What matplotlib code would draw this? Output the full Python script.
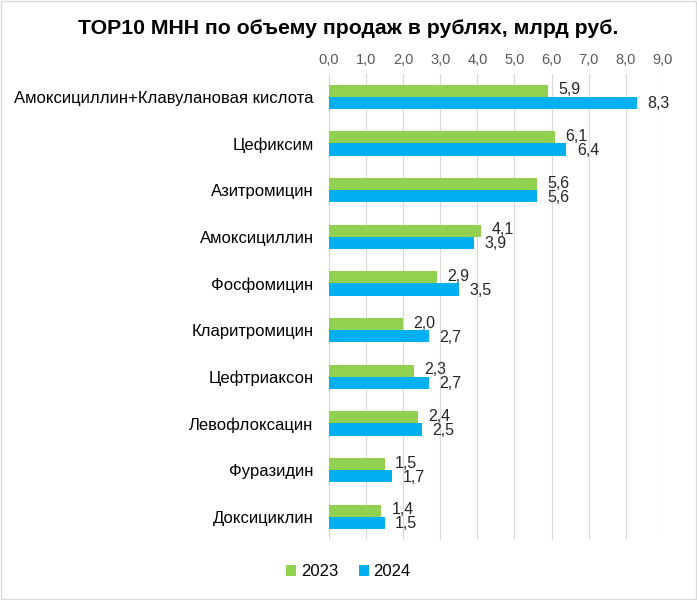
import numpy as np
import matplotlib.pyplot as plt
from matplotlib.patches import Rectangle

drugs = ["Амоксициллин+Клавулановая кислота", "Цефиксим", "Азитромицин",
         "Амоксициллин", "Фосфомицин", "Кларитромицин", "Цефтриаксон",
         "Левофлоксацин", "Фуразидин", "Доксициклин"]
sales_2023 = [5.9, 6.1, 5.6, 4.1, 2.9, 2.0, 2.3, 2.4, 1.5, 1.4]
sales_2024 = [8.3, 6.4, 5.6, 3.9, 3.5, 2.7, 2.7, 2.5, 1.7, 1.5]
x_ticks = [0, 1, 2, 3, 4, 5, 6, 7, 8, 9]

GREEN = '#92D050'
BLUE = '#00B0F0'

plt.rcParams['font.family'] = ['Liberation Sans', 'DejaVu Sans']

fig = plt.figure(figsize=(6.97, 6.0), dpi=100)
fig.patches.append(Rectangle((0.001, 0.001), 0.997, 0.997, transform=fig.transFigure,
                             fill=False, edgecolor='#D9D9D9', linewidth=1))
ax = fig.add_axes([0.472, 0.1, 0.479, 0.7775])

y = np.arange(len(drugs))
h = 0.26
b1 = ax.barh(y - h / 2, sales_2023, height=h, color=GREEN, label='2023', zorder=3)
b2 = ax.barh(y + h / 2, sales_2024, height=h, color=BLUE, label='2024', zorder=3)

fmt = lambda v: f"{v:.1f}".replace('.', ',')
# green labels sit a touch higher, blue a touch lower (they still touch, like the original)
for bars, vals, dy in ((b1, sales_2023, -0.02), (b2, sales_2024, 0.02)):
    for rect, v in zip(bars, vals):
        ax.text(v + 0.28, rect.get_y() + rect.get_height() / 2 + dy, fmt(v),
                va='center', ha='left', fontsize=11.5, color='#262626', zorder=4)

ax.set_xlim(0, 9)
ax.set_ylim(len(drugs) - 0.5, -0.5)
ax.set_yticks(y)
ax.set_yticklabels(drugs, fontsize=12, color='#000000')
ax.set_xticks(x_ticks)
ax.set_xticklabels([fmt(t) for t in x_ticks], fontsize=10.5, color='#595959')
ax.xaxis.tick_top()
ax.tick_params(axis='both', length=0)
ax.tick_params(axis='x', pad=5)
ax.tick_params(axis='y', pad=11)
ax.grid(axis='x', color='#D9D9D9', linewidth=0.8, zorder=0)
for s in ax.spines.values():
    s.set_visible(False)
ax.axvline(0, color='#D9D9D9', linewidth=0.8, zorder=1)

fig.text(0.5, 0.953, "TOP10 МНН по объему продаж в рублях, млрд руб.",
         ha='center', va='center', fontsize=15.3, fontweight='bold')

fig.legend(handles=[b1, b2], labels=['2023', '2024'], loc='center',
           bbox_to_anchor=(0.5, 0.047), ncol=2, frameon=False, fontsize=12,
           handlelength=0.6, handleheight=0.6, handletextpad=0.3, columnspacing=1.2)

fig.savefig('out.png', dpi=100)
